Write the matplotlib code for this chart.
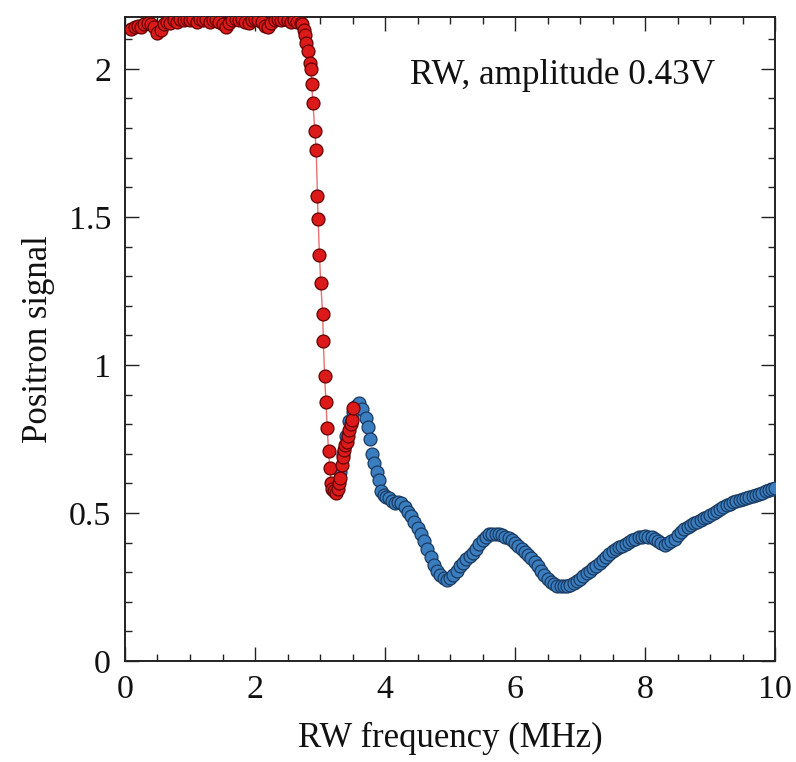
import matplotlib
matplotlib.use("Agg")
import matplotlib.pyplot as plt
from matplotlib.ticker import MultipleLocator

plt.rcParams['font.family'] = ['Liberation Serif', 'DejaVu Serif']
plt.rcParams['mathtext.fontset'] = 'stix'

# ---- data ----
red_x = [0.10, 0.15, 0.20, 0.25, 0.30, 0.35, 0.40, 0.45, 0.50, 0.55, 0.60, 0.65, 0.70,
         0.75, 0.80, 0.85, 0.90, 0.95, 1.00, 1.05, 1.10, 1.15, 1.20, 1.25, 1.30, 1.35,
         1.40, 1.45, 1.50, 1.55, 1.60, 1.65, 1.70, 1.75, 1.80, 1.85, 1.90, 1.95, 2.00,
         2.05, 2.10, 2.15, 2.20, 2.25, 2.30, 2.35, 2.40, 2.45, 2.50, 2.55, 2.60, 2.65,
         2.70, 2.72, 2.75, 2.77, 2.79, 2.82, 2.84, 2.86, 2.87, 2.89, 2.92, 2.94, 2.96,
         2.97, 2.99, 3.01, 3.04, 3.05, 3.07, 3.09, 3.11, 3.13, 3.15, 3.17, 3.19, 3.22,
         3.25, 3.27, 3.29, 3.31, 3.33, 3.35, 3.37, 3.39, 3.41, 3.43, 3.45, 3.47, 3.49, 3.51]
red_y = [2.135, 2.14, 2.145, 2.14, 2.15, 2.155, 2.15, 2.14, 2.12, 2.13, 2.15, 2.16, 2.155,
         2.165, 2.16, 2.17, 2.165, 2.17, 2.165, 2.17, 2.16, 2.17, 2.165, 2.17, 2.16, 2.165,
         2.17, 2.16, 2.15, 2.14, 2.155, 2.165, 2.17, 2.165, 2.17, 2.16, 2.155, 2.165, 2.17,
         2.165, 2.16, 2.145, 2.14, 2.155, 2.165, 2.17, 2.165, 2.17, 2.165, 2.16, 2.165, 2.16,
         2.155, 2.15, 2.13, 2.115, 2.086, 2.06, 2.02, 2.00, 1.95, 1.885, 1.79, 1.726, 1.57,
         1.493, 1.372, 1.278, 1.171, 1.082, 0.963, 0.876, 0.786, 0.71, 0.652, 0.60, 0.58, 0.575,
         0.567, 0.58, 0.60, 0.617, 0.662, 0.69, 0.713, 0.73, 0.74, 0.76, 0.78, 0.80, 0.814, 0.854]

blue_x = [3.22, 3.25, 3.30, 3.35, 3.40, 3.45, 3.50, 3.55, 3.60, 3.65, 3.70, 3.74, 3.77,
          3.80, 3.83, 3.87, 3.90, 3.94, 3.98, 4.02, 4.06, 4.10, 4.15, 4.20, 4.25, 4.30,
          4.35, 4.40, 4.45, 4.50, 4.55, 4.60, 4.65, 4.70, 4.75, 4.80, 4.85, 4.90, 4.95,
          5.00, 5.05, 5.10, 5.15, 5.20, 5.25, 5.30, 5.35, 5.40, 5.45, 5.50, 5.55, 5.60,
          5.65, 5.70, 5.75, 5.80, 5.85, 5.90, 5.95, 6.00, 6.05, 6.10, 6.15, 6.20, 6.25,
          6.30, 6.35, 6.40, 6.45, 6.50, 6.55, 6.60, 6.65, 6.70, 6.75, 6.80, 6.85, 6.90,
          6.95, 7.00, 7.05, 7.10, 7.15, 7.20, 7.25, 7.30, 7.35, 7.40, 7.45, 7.50, 7.55,
          7.60, 7.65, 7.70, 7.75, 7.80, 7.85, 7.90, 7.95, 8.00, 8.05, 8.10, 8.15, 8.20,
          8.25, 8.30, 8.35, 8.40, 8.45, 8.50, 8.55, 8.60, 8.65, 8.70, 8.75, 8.80, 8.85,
          8.90, 8.95, 9.00, 9.05, 9.10, 9.15, 9.20, 9.25, 9.30, 9.35, 9.40, 9.45, 9.50,
          9.55, 9.60, 9.65, 9.70, 9.75, 9.80, 9.85, 9.90, 9.95, 10.0]
blue_y = [0.59, 0.60, 0.64, 0.70, 0.76, 0.81, 0.84, 0.86, 0.87, 0.85, 0.82, 0.792, 0.75,
          0.70, 0.67, 0.64, 0.61, 0.575, 0.56, 0.555, 0.55, 0.54, 0.535, 0.538, 0.535, 0.52,
          0.505, 0.49, 0.47, 0.45, 0.43, 0.405, 0.38, 0.35, 0.325, 0.305, 0.29, 0.282, 0.275,
          0.28, 0.29, 0.305, 0.32, 0.33, 0.345, 0.355, 0.365, 0.38, 0.395, 0.41, 0.42, 0.428,
          0.43, 0.43, 0.428, 0.425, 0.42, 0.415, 0.408, 0.398, 0.388, 0.378, 0.368, 0.358, 0.348,
          0.335, 0.32, 0.305, 0.29, 0.278, 0.268, 0.26, 0.255, 0.252, 0.253, 0.255, 0.258, 0.262,
          0.27, 0.278, 0.287, 0.296, 0.305, 0.313, 0.322, 0.33, 0.34, 0.35, 0.36, 0.37, 0.378,
          0.385, 0.39, 0.395, 0.402, 0.408, 0.413, 0.418, 0.42, 0.422, 0.42, 0.418, 0.412, 0.405,
          0.398, 0.393, 0.398, 0.405, 0.412, 0.425, 0.437, 0.445, 0.452, 0.458, 0.465, 0.47, 0.476,
          0.482, 0.488, 0.493, 0.50, 0.507, 0.513, 0.52, 0.526, 0.532, 0.537, 0.54, 0.544, 0.548,
          0.551, 0.555, 0.558, 0.561, 0.565, 0.569, 0.573, 0.577, 0.582, 0.586]

x_ticks = [0, 2, 4, 6, 8, 10]
y_ticks = [0, 0.5, 1, 1.5, 2]
y_tick_labels = ['0', '0.5', '1', '1.5', '2']

# ---- figure ----
fig = plt.figure(figsize=(7.96, 7.62), dpi=100)
ax = fig.add_axes([0.157, 0.1325, 0.817, 0.8455])

ax.plot(blue_x, blue_y, linestyle='none', marker='o', markersize=9.3,
        markerfacecolor='#3a7ebf', markeredgecolor='#1a3a62', markeredgewidth=0.9, zorder=3)
ax.plot(red_x, red_y, linestyle='-', color='#e87070', linewidth=1.0, marker='o',
        markersize=9.3, markerfacecolor='#dc1a1a', markeredgecolor='#640000',
        markeredgewidth=0.9, zorder=4)

ax.set_xlim(0, 10)
ax.set_ylim(0, 2.176)
ax.set_xticks(x_ticks)
ax.set_xticklabels([str(t) for t in x_ticks])
ax.set_yticks(y_ticks)
ax.set_yticklabels(y_tick_labels)
ax.xaxis.set_minor_locator(MultipleLocator(0.5))
ax.yaxis.set_minor_locator(MultipleLocator(0.1))
ax.tick_params(which='both', direction='in', top=True, right=True, labelsize=24.5,
               width=1.0, colors='#222222', labelcolor='#111111')
ax.tick_params(which='major', length=10, pad=10)
ax.tick_params(which='minor', length=5)
for sp in ax.spines.values():
    sp.set_linewidth(1.4)
    sp.set_color('#222222')

ax.set_xlabel('RW frequency (MHz)', fontsize=25, labelpad=12, color='#111111')
ax.set_ylabel('Positron signal', fontsize=25, labelpad=10, color='#111111')
ax.text(4.38, 1.98, 'RW, amplitude 0.43V', fontsize=25.3, va='center', ha='left',
        color='#111111')

fig.savefig('out.png', dpi=100)
